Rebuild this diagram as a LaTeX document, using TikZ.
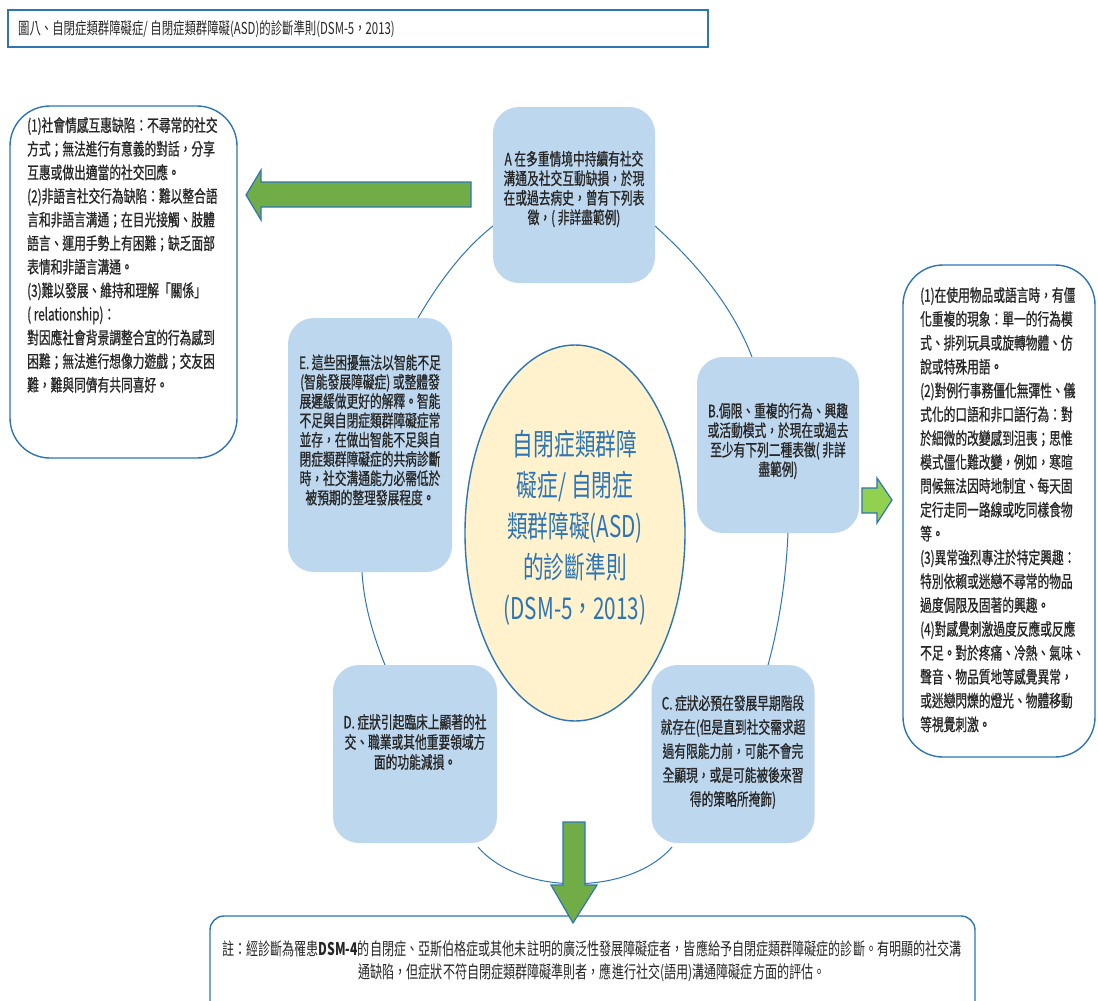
\documentclass[tikz,border=0pt]{standalone}
\usepackage{fontspec}
\setmainfont{Noto Sans CJK TC}[FakeStretch=0.69]
\newfontfamily\bxfont{Noto Sans CJK TC}[FakeStretch=0.69, FakeBold=0.8]
\usetikzlibrary{shapes.geometric}
\definecolor{bordblue}{HTML}{2E75B6}
\definecolor{boxblue}{HTML}{BDD7EE}
\definecolor{ellfill}{HTML}{FFF2CC}
\definecolor{gdark}{HTML}{70AD47}
\definecolor{glight}{HTML}{92D050}
\definecolor{txt}{HTML}{262626}
\tikzset{
  crit/.style={fill=boxblue, draw=none, rounded corners=26pt, inner sep=0pt},
  crittext/.style={text=txt, align=center, inner sep=0pt, font=\bxfont\fontsize{17}{19.5}\selectfont},
  sidebox/.style={draw=bordblue, line width=1.4pt, fill=white, rounded corners=40pt},
  sidetext/.style={text=txt, align=left, inner sep=0pt, anchor=north west, font=\bxfont\fontsize{17}{23.6}\selectfont},
  ring/.style={draw=bordblue, line width=1pt},
  blockarrow/.style={draw=bordblue, line width=1.2pt, line join=miter},
}
\begin{document}
\begin{tikzpicture}[x=1pt,y=-1pt]
\useasboundingbox (0,0) rectangle (1098,1001);
\fill[white] (0,0) rectangle (1098,1001);

% title
\draw[draw=bordblue, line width=1.3pt] (8,10) rectangle (708,47);
\node[anchor=west, inner sep=0pt, text=txt, font=\fontsize{16.5}{18}\selectfont] (title) at (18,29) {圖八、自閉症類群障礙症/ 自閉症類群障礙(ASD)的診斷準則(DSM-5，2013)};

% ring arcs
\coordinate (eaS) at (418,318);
\coordinate (eaE) at (493,226);
\coordinate (abS) at (655,226);
\coordinate (abE) at (752,357);
\coordinate (bcS) at (788,533);
\coordinate (bcE) at (768,665);
\coordinate (cdS) at (672,847);
\coordinate (cdE) at (478,847);
\coordinate (deS) at (385,665);
\coordinate (deE) at (362,572);
\draw[ring] (eaS) .. controls (440,280) and (465,248) .. (eaE);
\draw[ring] (abS) .. controls (695,262) and (732,305) .. (abE);
\draw[ring] (bcS) .. controls (786,580) and (779,625) .. (bcE);
\draw[ring] (cdS) .. controls (630,896) and (520,896) .. (cdE);
\draw[ring] (deS) .. controls (373,635) and (364,605) .. (deE);

% center ellipse
\node[ellipse, draw=bordblue, line width=1.4pt, fill=ellfill, minimum width=220pt, minimum height=376pt, inner sep=0pt] (center) at (575,533) {};
\node[text=bordblue, align=center, inner sep=0pt, font=\fontsize{30}{41}\selectfont] (ctext) at (575,528) {自閉症類群障\\礙症/ 自閉症\\類群障礙(ASD)\\的診斷準則\\(DSM-5，2013)};

% criteria boxes
\node[crit, minimum width=162pt, minimum height=176pt] (A) at (574,195) {};
\node[crittext] (Atext) at (574,189) {A 在多重情境中持續有社交\\溝通及社交互動缺損，於現\\在或過去病史，曾有下列表\\徵，( 非詳盡範例)};

\node[crit, minimum width=162pt, minimum height=176pt] (B) at (778,445) {};
\node[crittext] (Btext) at (778,441) {B.侷限、重複的行為、興趣\\或活動模式，於現在或過去\\至少有下列二種表徵( 非詳\\盡範例)};

\node[crit, minimum width=163pt, minimum height=178pt] (C) at (733,754) {};
\node[crittext, font=\bxfont\fontsize{17}{24}\selectfont] (Ctext) at (733,752) {C. 症狀必預在發展早期階段\\就存在(但是直到社交需求超\\過有限能力前，可能不會完\\全顯現，或是可能被後來習\\得的策略所掩飾)};

\node[crit, minimum width=164pt, minimum height=178pt] (D) at (415,754) {};
\node[crittext, font=\bxfont\fontsize{17}{20}\selectfont] (Dtext) at (415,742) {D. 症狀引起臨床上顯著的社\\交、職業或其他重要領域方\\面的功能減損。};

\node[crit, minimum width=164pt, minimum height=254pt] (E) at (370,445) {};
\node[crittext, font=\bxfont\fontsize{17}{19.3}\selectfont] (Etext) at (370,430) {E. 這些困擾無法以智能不足\\(智能發展障礙症) 或整體發\\展遲緩做更好的解釋。智能\\不足與自閉症類群障礙症常\\並存，在做出智能不足與自\\閉症類群障礙症的共病診斷\\時，社交溝通能力必需低於\\被預期的整理發展程度。};

% left box
\draw[sidebox] (10,106) rectangle (237,458);
\node[sidetext] (ltext) at (27,117) {(1)社會情感互惠缺陷：不尋常的社交\\方式；無法進行有意義的對話，分享\\互惠或做出適當的社交回應。\\(2)非語言社交行為缺陷：難以整合語\\言和非語言溝通；在目光接觸、肢體\\語言、運用手勢上有困難；缺乏面部\\表情和非語言溝通。\\(3)難以發展、維持和理解「關係」\\( relationship)：\\對因應社會背景調整合宜的行為感到\\困難；無法進行想像力遊戲；交友困\\難，難與同儕有共同喜好。};

% right box
\draw[sidebox] (903,265) rectangle (1095,757);
\node[sidetext, font=\bxfont\fontsize{17}{23.85}\selectfont] (rtext) at (920,287) {(1)在使用物品或語言時，有僵\\化重複的現象：單一的行為模\\式、排列玩具或旋轉物體、仿\\說或特殊用語。\\(2)對例行事務僵化無彈性、儀\\式化的口語和非口語行為：對\\於細微的改變感到沮喪；思惟\\模式僵化難改變，例如，寒暄\\問候無法因時地制宜、每天固\\定行走同一路線或吃同樣食物\\等。\\(3)異常強烈專注於特定興趣：\\特別依賴或迷戀不尋常的物品\\過度侷限及固著的興趣。\\(4)對感覺刺激過度反應或反應\\不足。對於疼痛、冷熱、氣味、\\聲音、物品質地等感覺異常，\\或迷戀閃爍的燈光、物體移動\\等視覺刺激。};

% note box
\draw[draw=bordblue, line width=1.4pt, fill=white, rounded corners=14pt] (210,1020) -- (210,916) -- (975,916) -- (975,1020);
\node[text=txt, align=center, inner sep=0pt, font=\fontsize{17.5}{23}\selectfont] (note) at (592,961) {註：經診斷為罹患\textbf{DSM-4}的自閉症、亞斯伯格症或其他未註明的廣泛性發展障礙症者，皆應給予自閉症類群障礙症的診斷。有明顯的社交溝\\通缺陷，但症狀不符自閉症類群障礙準則者，應進行社交(語用)溝通障礙症方面的評估。};

% block arrows
\draw[blockarrow, fill=gdark] (246,195) -- (261,170) -- (261,182) -- (471,182) -- (471,207) -- (261,207) -- (261,220) -- cycle;
\draw[blockarrow, fill=glight] (862,488) -- (877,488) -- (877,478) -- (892,500) -- (877,523) -- (877,513) -- (862,513) -- cycle;
\draw[blockarrow, fill=gdark] (563,822) -- (585,822) -- (585,885) -- (597,885) -- (573,923) -- (551,885) -- (563,885) -- cycle;
\end{tikzpicture}
\end{document}
